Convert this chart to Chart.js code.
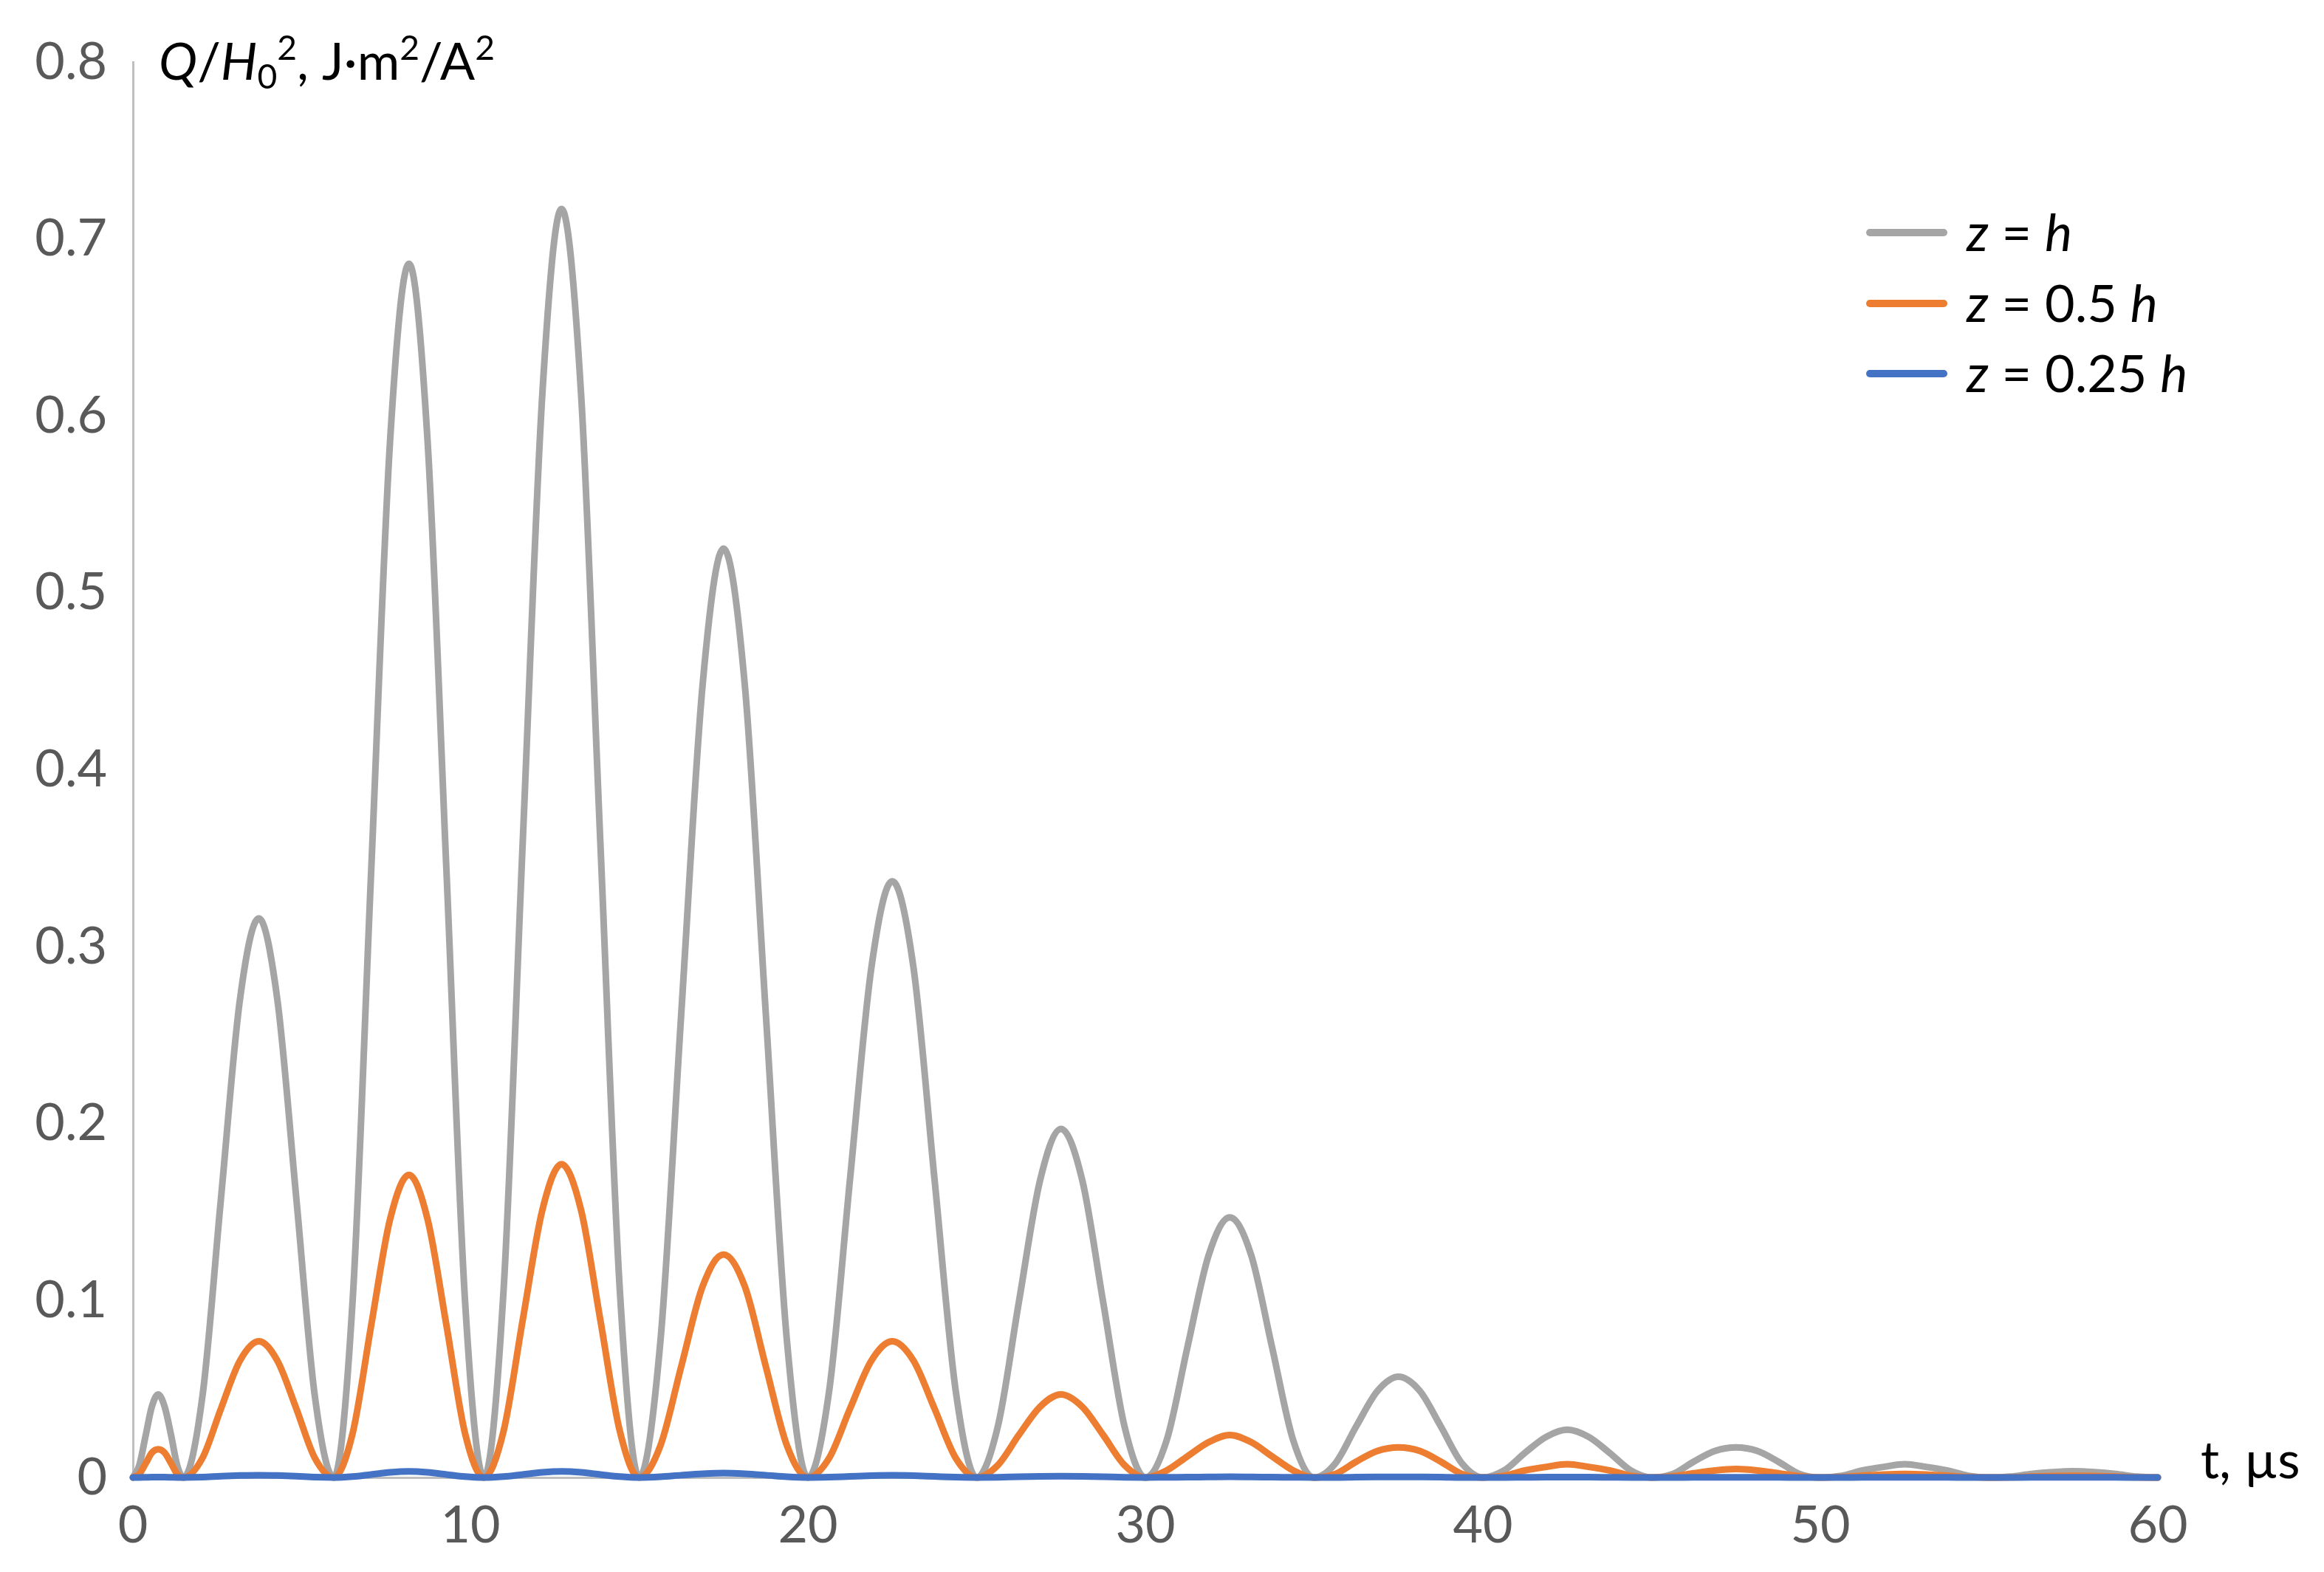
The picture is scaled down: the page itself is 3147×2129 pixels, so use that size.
<!DOCTYPE html>
<html>
<head>
<meta charset="utf-8">
<script src="https://cdn.jsdelivr.net/npm/chart.js@4.4.1/dist/chart.umd.min.js"></script>
<style>
  html, body { margin: 0; padding: 0; background: #fff; }
  canvas { display: block; }
</style>
</head>
<body>
<canvas id="qChart" width="3147" height="2129"></canvas>
<script>
// time, µs (shared by all three curves)
const timeUs = [
  0, 0.19, 0.38, 0.56, 0.75, 0.94, 1.13, 1.31,
  1.5, 2.06, 2.61, 3.17, 3.73, 4.28, 4.84, 5.39,
  5.95, 6.51, 7.06, 7.62, 8.18, 8.73, 9.29, 9.84,
  10.4, 10.98, 11.55, 12.13, 12.7, 13.28, 13.85, 14.43,
  15, 15.63, 16.25, 16.88, 17.5, 18.13, 18.75, 19.38,
  20, 20.63, 21.25, 21.88, 22.5, 23.13, 23.75, 24.38,
  25, 25.63, 26.25, 26.88, 27.5, 28.13, 28.75, 29.38,
  30, 30.63, 31.25, 31.88, 32.5, 33.13, 33.75, 34.38,
  35, 35.63, 36.25, 36.88, 37.5, 38.13, 38.75, 39.38,
  40, 40.63, 41.25, 41.88, 42.5, 43.13, 43.75, 44.38,
  45, 45.63, 46.25, 46.88, 47.5, 48.13, 48.75, 49.38,
  50, 50.63, 51.25, 51.88, 52.5, 53.13, 53.75, 54.38,
  55, 55.63, 56.25, 56.88, 57.5, 58.13, 58.75, 59.38,
  60
];

// z = h
const qFull = [
  0, 0.007, 0.024, 0.040, 0.047, 0.040, 0.024, 0.007,
  0, 0.046, 0.158, 0.270, 0.316, 0.270, 0.158, 0.046,
  0, 0.100, 0.343, 0.586, 0.686, 0.586, 0.343, 0.100,
  0, 0.105, 0.359, 0.612, 0.717, 0.612, 0.359, 0.105,
  0, 0.077, 0.263, 0.448, 0.525, 0.448, 0.263, 0.077,
  0, 0.049, 0.169, 0.288, 0.337, 0.288, 0.169, 0.049,
  0, 0.029, 0.099, 0.168, 0.197, 0.168, 0.099, 0.029,
  0, 0.021, 0.074, 0.126, 0.147, 0.126, 0.074, 0.021,
  0, 0.008, 0.029, 0.049, 0.057, 0.049, 0.029, 0.008,
  0, 0.004, 0.014, 0.023, 0.027, 0.023, 0.014, 0.004,
  0, 0.002, 0.009, 0.015, 0.017, 0.015, 0.009, 0.002,
  0, 0.001, 0.004, 0.006, 0.0075, 0.006, 0.004, 0.001,
  0, 0.0005, 0.002, 0.003, 0.0035, 0.003, 0.002, 0.0005,
  0
];

// z = 0.5 h
const qHalf = [
  0, 0.002, 0.008, 0.014, 0.016, 0.014, 0.008, 0.002,
  0, 0.011, 0.039, 0.066, 0.077, 0.066, 0.039, 0.011,
  0, 0.025, 0.086, 0.146, 0.171, 0.146, 0.086, 0.025,
  0, 0.026, 0.089, 0.151, 0.177, 0.151, 0.089, 0.026,
  0, 0.018, 0.063, 0.108, 0.126, 0.108, 0.063, 0.018,
  0, 0.011, 0.039, 0.066, 0.077, 0.066, 0.039, 0.011,
  0, 0.007, 0.024, 0.040, 0.047, 0.040, 0.024, 0.007,
  0, 0.004, 0.012, 0.020, 0.024, 0.020, 0.012, 0.004,
  0, 0.002, 0.009, 0.015, 0.017, 0.015, 0.009, 0.002,
  0, 0.001, 0.004, 0.006, 0.0075, 0.006, 0.004, 0.001,
  0, 0.0007, 0.0024, 0.004, 0.0048, 0.004, 0.0024, 0.0007,
  0, 0.0003, 0.001, 0.0017, 0.002, 0.0017, 0.001, 0.0003,
  0, 0.0001, 0.0005, 0.0008, 0.0009, 0.0008, 0.0005, 0.0001,
  0
];

// z = 0.25 h
const qQuarter = [
  0, 0, 0.0001, 0.0002, 0.0002, 0.0002, 0.0001, 0,
  0, 0.0002, 0.0007, 0.0011, 0.0013, 0.0011, 0.0007, 0.0002,
  0, 0.0005, 0.0017, 0.0029, 0.0034, 0.0029, 0.0017, 0.0005,
  0, 0.0005, 0.0017, 0.0029, 0.0034, 0.0029, 0.0017, 0.0005,
  0, 0.0004, 0.0013, 0.0021, 0.0025, 0.0021, 0.0013, 0.0004,
  0, 0.0002, 0.0006, 0.001, 0.0012, 0.001, 0.0006, 0.0002,
  0, 0.0001, 0.0004, 0.0006, 0.0007, 0.0006, 0.0004, 0.0001,
  0, 0.0001, 0.0002, 0.0003, 0.0004, 0.0003, 0.0002, 0.0001,
  0, 0, 0.0002, 0.0003, 0.0003, 0.0003, 0.0002, 0,
  0, 0, 0.0001, 0.0002, 0.0002, 0.0002, 0.0001, 0,
  0, 0, 0.0001, 0.0001, 0.0001, 0.0001, 0.0001, 0,
  0, 0, 0.0001, 0.0001, 0.0001, 0.0001, 0.0001, 0,
  0, 0, 0.0001, 0.0001, 0.0001, 0.0001, 0.0001, 0,
  0
];

const xTickValues = [0, 10, 20, 30, 40, 50, 60];
const yTickValues = [0, 0.1, 0.2, 0.3, 0.4, 0.5, 0.6, 0.7, 0.8];

const seriesColors = ['#A5A5A5', '#ED7D31', '#4472C4'];
const legendLabels = [
  [['z', 'i'], [' = ', 'n'], ['h', 'i']],
  [['z', 'i'], [' = 0.5 ', 'n'], ['h', 'i']],
  [['z', 'i'], [' = 0.25 ', 'n'], ['h', 'i']]
];

const FONT = 'Lato, "Open Sans", sans-serif';
const BASE = 70;

function toPoints(values) {
  return values.map((v, i) => ({ x: timeUs[i], y: v }));
}

// draws text made of italic / normal / sup / sub pieces
function drawRich(ctx, x, y, parts) {
  let cx = x;
  parts.forEach(([text, style]) => {
    let size = BASE, dy = 0, italic = false;
    if (style === 'i') italic = true;
    if (style === 'sup') { size = BASE * 0.66; dy = -27; }
    if (style === 'sub') { size = BASE * 0.66; dy = 12; }
    ctx.font = (italic ? 'italic ' : '') + size + 'px ' + FONT;
    ctx.fillText(text, cx, y + dy);
    cx += ctx.measureText(text).width;
  });
}

const annotations = {
  id: 'annotations',
  afterDraw(chart) {
    const ctx = chart.ctx;
    ctx.save();
    ctx.fillStyle = '#000';
    ctx.textBaseline = 'alphabetic';
    ctx.textAlign = 'left';

    // y axis title
    drawRich(ctx, 215, 108, [
      ['Q', 'i'], ['/', 'n'], ['H', 'i'], ['0', 'sub'], ['2', 'sup'],
      [', J·m', 'n'], ['2', 'sup'], ['/A', 'n'], ['2', 'sup']
    ]);

    // x axis title
    drawRich(ctx, 2980, 2002, [['t, µs', 'n']]);

    // legend
    const rows = [315, 411, 506];
    legendLabels.forEach((label, i) => {
      ctx.strokeStyle = seriesColors[i];
      ctx.lineWidth = 10;
      ctx.lineCap = 'round';
      ctx.beginPath();
      ctx.moveTo(2532, rows[i]);
      ctx.lineTo(2632, rows[i]);
      ctx.stroke();
      drawRich(ctx, 2663, rows[i] + 25, label);
    });
    ctx.restore();
  }
};

const ctx = document.getElementById('qChart');

new Chart(ctx, {
  type: 'line',
  data: {
    datasets: [
      { label: 'z = h', data: toPoints(qFull), borderColor: seriesColors[0], order: 3, clip: 6 },
      { label: 'z = 0.5 h', data: toPoints(qHalf), borderColor: seriesColors[1], order: 2, clip: 6 },
      { label: 'z = 0.25 h', data: toPoints(qQuarter), borderColor: seriesColors[2], order: 1, clip: 6 }
    ]
  },
  options: {
    responsive: false,
    animation: false,
    layout: { padding: { top: 84, right: 225, left: 0, bottom: 0 } },
    elements: {
      line: { borderWidth: 9, cubicInterpolationMode: 'monotone', borderCapStyle: 'round', borderJoinStyle: 'round', fill: false },
      point: { radius: 0, hoverRadius: 0 }
    },
    plugins: {
      legend: { display: false },
      tooltip: { enabled: false }
    },
    scales: {
      x: {
        type: 'linear',
        min: 0,
        max: 60,
        afterBuildTicks: scale => { scale.ticks = xTickValues.map(v => ({ value: v })); },
        afterFit: scale => { scale.height = 128; },
        grid: { display: false, drawTicks: false },
        border: { display: true, color: '#BFBFBF', width: 3 },
        ticks: {
          padding: 23,
          color: '#595959',
          font: { family: FONT, size: BASE },
          maxRotation: 0,
          callback: v => String(v)
        }
      },
      y: {
        min: 0,
        max: 0.8,
        afterBuildTicks: scale => { scale.ticks = yTickValues.map(v => ({ value: v })); },
        afterFit: scale => { scale.width = 180; },
        grid: { display: false, drawTicks: false },
        border: { display: true, color: '#BFBFBF', width: 3 },
        ticks: {
          padding: 35,
          color: '#595959',
          font: { family: FONT, size: BASE },
          callback: v => String(Number(v.toFixed(1)))
        }
      }
    }
  },
  plugins: [annotations]
});
</script>
</body>
</html>
